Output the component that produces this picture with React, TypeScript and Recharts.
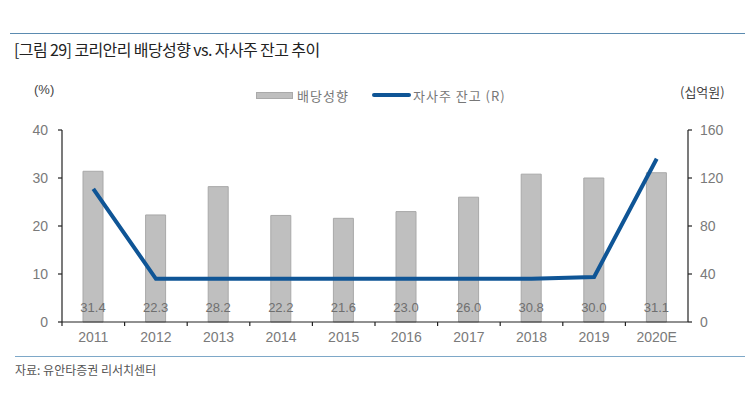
import React from 'react';
import { ComposedChart, Bar, Line, XAxis, YAxis, LabelList } from 'recharts';

const years = ['2011', '2012', '2013', '2014', '2015', '2016', '2017', '2018', '2019', '2020E'];
const payoutRatio = [31.4, 22.3, 28.2, 22.2, 21.6, 23.0, 26.0, 30.8, 30.0, 31.1];
const treasuryStock = [111, 36, 36, 36, 36, 36, 36, 36, 37.5, 136];
const leftTicks = [0, 10, 20, 30, 40];
const rightTicks = [0, 40, 80, 120, 160];

const data = years.map((y, i) => ({ year: y, payout: payoutRatio[i], stock: treasuryStock[i] }));

const tickFont = 'Liberation Sans, Arial, sans-serif';
const krFont = '"Noto Sans CJK KR", "Noto Sans", sans-serif';
const tickColor = '#7a7a7a';

const XTick = (props: any) => {
  const { x, y, payload } = props;
  const off = payload.offset || 0;
  return (
    <g>
      <line x1={x - off} y1={y} x2={x - off} y2={y + 4} stroke="#222" strokeWidth={1.2} />
      <text x={x} y={y + 20} textAnchor="middle" fill={tickColor} fontSize={14} fontFamily={tickFont}>
        {payload.value}
      </text>
    </g>
  );
};

export default function App() {
  return (
    <div style={{ position: 'absolute', left: 0, top: 0, width: 750, height: 399, background: '#fff', overflow: 'hidden' }}>
      <div style={{ position: 'absolute', left: 10, top: 33, width: 735, height: 1, background: '#5b8bb0' }} />
      <div style={{ position: 'absolute', left: 14, top: 37, fontFamily: krFont, fontSize: 16, color: '#222', letterSpacing: -0.6, whiteSpace: 'nowrap' }}>
        [그림 29] 코리안리 배당성향 vs. 자사주 잔고 추이
      </div>
      <div style={{ position: 'absolute', left: 34, top: 82, fontFamily: tickFont, fontSize: 13, color: '#444' }}>(%)</div>
      <div style={{ position: 'absolute', left: 680, top: 82, fontFamily: krFont, fontSize: 13, color: '#444', whiteSpace: 'nowrap' }}>(십억원)</div>
      <div style={{ position: 'absolute', left: 256, top: 92, width: 37, height: 7, background: '#bfbfbf', border: '1px solid #aaa', boxSizing: 'border-box' }} />
      <div style={{ position: 'absolute', left: 297, top: 86, fontFamily: krFont, fontSize: 13, color: '#777', whiteSpace: 'nowrap', letterSpacing: 1 }}>배당성향</div>
      <div style={{ position: 'absolute', left: 372, top: 93, width: 39, height: 4, background: '#0f5596', borderRadius: 2 }} />
      <div style={{ position: 'absolute', left: 413, top: 86, fontFamily: krFont, fontSize: 13, color: '#777', whiteSpace: 'nowrap', letterSpacing: 1 }}>자사주 잔고 (R)</div>
      <div style={{ position: 'absolute', left: 0, top: 0 }}>
        <ComposedChart
          width={750}
          height={399}
          data={data}
          margin={{ top: 130, right: 20, bottom: 47, left: 20 }}
          barCategoryGap={0}
        >
          <XAxis
            dataKey="year"
            height={30}
            axisLine={{ stroke: '#222', strokeWidth: 1.2 }}
            tickLine={false}
            tickSize={0}
            tickMargin={0}
            tick={<XTick />}
            interval={0}
          />
          <YAxis
            yAxisId="left"
            width={42}
            domain={[0, 40]}
            ticks={leftTicks}
            axisLine={{ stroke: '#222', strokeWidth: 1.2 }}
            tickLine={{ stroke: '#222', strokeWidth: 1.2 }}
            tickSize={4}
            tickMargin={10}
            tick={{ fill: tickColor, fontSize: 14, fontFamily: tickFont }}
          />
          <YAxis
            yAxisId="right"
            orientation="right"
            width={42}
            domain={[0, 160]}
            ticks={rightTicks}
            axisLine={{ stroke: '#222', strokeWidth: 1.2 }}
            tickLine={{ stroke: '#222', strokeWidth: 1.2 }}
            tickSize={4}
            tickMargin={8}
            tick={{ fill: tickColor, fontSize: 14, fontFamily: tickFont }}
          />
          <Bar yAxisId="left" dataKey="payout" fill="#bfbfbf" stroke="#a8a8a8" strokeWidth={1} barSize={20} isAnimationActive={false}>
            <LabelList dataKey="payout" position="insideBottom" offset={10} fill="#6f6f6f" fontSize={13} fontFamily={tickFont} formatter={(v: any) => Number(v).toFixed(1)} />
          </Bar>
          <Line yAxisId="right" dataKey="stock" stroke="#0f5596" strokeWidth={4} dot={false} type="linear" isAnimationActive={false} />
        </ComposedChart>
      </div>
      <div style={{ position: 'absolute', left: 15, top: 356, width: 730, height: 1, background: '#7ea8c8' }} />
      <div style={{ position: 'absolute', left: 15, top: 361, fontFamily: krFont, fontSize: 12, color: '#555', whiteSpace: 'nowrap' }}>자료: 유안타증권 리서치센터</div>
    </div>
  );
}
